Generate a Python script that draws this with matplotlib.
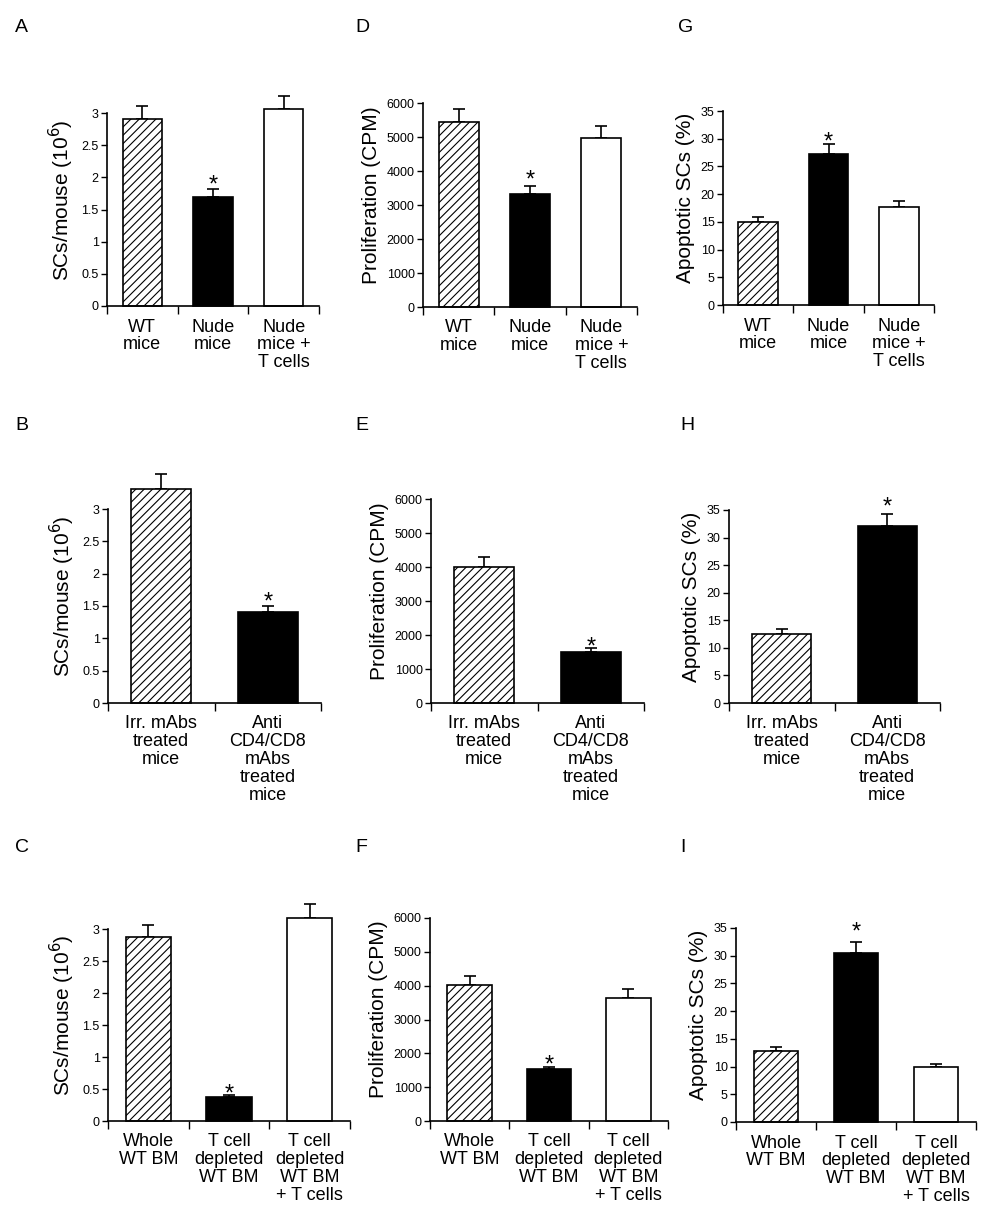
import matplotlib
matplotlib.use("Agg")
import matplotlib.pyplot as plt
from matplotlib.ticker import FixedLocator, NullFormatter

plt.rcParams['font.family'] = ['Liberation Sans', 'DejaVu Sans']
plt.rcParams['hatch.linewidth'] = 0.8

W, H = 999, 1218

# ---------------- data ----------------
cats_nude = ["WT\nmice", "Nude\nmice", "Nude\nmice +\nT cells"]
cats_mabs = ["Irr. mAbs\ntreated\nmice", "Anti\nCD4/CD8\nmAbs\ntreated\nmice"]
cats_bm = ["Whole\nWT BM", "T cell\ndepleted\nWT BM", "T cell\ndepleted\nWT BM\n+ T cells"]

sc_nude = [2.91, 1.70, 3.06]
sc_nude_err = [0.20, 0.12, 0.21]
prolif_nude = [5440, 3330, 4970]
prolif_nude_err = [380, 220, 345]
apop_nude = [15.0, 27.2, 17.7]
apop_nude_err = [0.95, 1.8, 1.1]

sc_mabs = [3.31, 1.41]
sc_mabs_err = [0.23, 0.09]
prolif_mabs = [4000, 1510]
prolif_mabs_err = [285, 98]
apop_mabs = [12.6, 32.1]
apop_mabs_err = [0.9, 2.2]

sc_bm = [2.87, 0.38, 3.17]
sc_bm_err = [0.19, 0.03, 0.22]
prolif_bm = [4020, 1527, 3645]
prolif_bm_err = [275, 80, 267]
apop_bm = [12.8, 30.4, 9.9]
apop_bm_err = [0.8, 2.0, 0.6]

sig_nude = [False, True, False]
sig_mabs = [False, True]
sig_bm = [False, True, False]

yl_sc = "SCs/mouse (10$^{6}$)"
yl_pr = "Proliferation (CPM)"
yl_ap = "Apoptotic SCs (%)"

sc_ticks = [0, 0.5, 1, 1.5, 2, 2.5, 3]
sc_ticklabels = ["0", "0.5", "1", "1.5", "2", "2.5", "3"]
pr_ticks = [0, 1000, 2000, 3000, 4000, 5000, 6000]
pr_ticklabels = ["0", "1000", "2000", "3000", "4000", "5000", "6000"]
ap_ticks = [0, 5, 10, 15, 20, 25, 30, 35]
ap_ticklabels = ["0", "5", "10", "15", "20", "25", "30", "35"]

# panel: letter, label pos(px), axis x-left, x-right, y(0), y(top tick), data..., star gap (px)
panels = [
    ("A", (15, 27), 107, 319, 306, 113, cats_nude, sc_nude, sc_nude_err, sig_nude, sc_ticks, sc_ticklabels, yl_sc, 11),
    ("D", (355, 27), 423, 637, 307, 103, cats_nude, prolif_nude, prolif_nude_err, sig_nude, pr_ticks, pr_ticklabels, yl_pr, 14),
    ("G", (678, 27), 723, 934, 305, 111, cats_nude, apop_nude, apop_nude_err, sig_nude, ap_ticks, ap_ticklabels, yl_ap, 10),
    ("B", (15, 425), 108, 321, 703, 509, cats_mabs, sc_mabs, sc_mabs_err, sig_mabs, sc_ticks, sc_ticklabels, yl_sc, 11),
    ("E", (355, 425), 431, 644, 703, 499, cats_mabs, prolif_mabs, prolif_mabs_err, sig_mabs, pr_ticks, pr_ticklabels, yl_pr, 9),
    ("H", (680, 425), 729, 940, 703, 510, cats_mabs, apop_mabs, apop_mabs_err, sig_mabs, ap_ticks, ap_ticklabels, yl_ap, 14),
    ("C", (15, 847), 108, 350, 1121, 929, cats_bm, sc_bm, sc_bm_err, sig_bm, sc_ticks, sc_ticklabels, yl_sc, 8),
    ("F", (355, 847), 430, 668, 1121, 918, cats_bm, prolif_bm, prolif_bm_err, sig_bm, pr_ticks, pr_ticklabels, yl_pr, 9),
    ("I", (680, 847), 736, 976, 1122, 928, cats_bm, apop_bm, apop_bm_err, sig_bm, ap_ticks, ap_ticklabels, yl_ap, 18),
]

fills = [dict(facecolor="white", hatch="////"),
         dict(facecolor="black"),
         dict(facecolor="white")]

STAR_FS = 17
fig = plt.figure(figsize=(W / 100, H / 100), dpi=100)

for (letter, lpos, xl, xr, y0, yt, cats, vals, errs, sig, ticks, tlabels, ylab, gap) in panels:
    ytp = yt - 50
    ymax = ticks[-1] * (y0 - ytp) / (y0 - yt)
    ax = fig.add_axes([xl / W, 1 - y0 / H, (xr - xl) / W, (y0 - ytp) / H])
    n = len(cats)
    xs = list(range(n))
    for i in xs:
        ax.bar(i, vals[i], width=0.56, edgecolor="black", linewidth=1.2,
               zorder=2, clip_on=False, **fills[i])
    ax.errorbar(xs, vals, yerr=[[0] * n, errs], fmt="none", ecolor="black",
                elinewidth=1.2, capsize=4.5, capthick=1.2, zorder=1, clip_on=False)
    em_px = STAR_FS * 100 / 72
    for i in xs:
        if sig[i]:
            off_px = gap - 0.59 * em_px
            ax.annotate("*", xy=(i, vals[i] + errs[i]), xytext=(0, off_px * 0.72),
                        textcoords="offset points", ha="center", va="baseline",
                        fontsize=STAR_FS, clip_on=False)
    ax.set_xlim(-0.5, n - 0.5)
    ax.set_ylim(0, ymax)
    for s in ("top", "right"):
        ax.spines[s].set_visible(False)
    ax.spines["left"].set_bounds(0, ticks[-1])
    ax.spines["left"].set_linewidth(1.2)
    ax.spines["bottom"].set_linewidth(1.2)
    ax.set_yticks(ticks)
    ax.set_yticklabels(tlabels, fontsize=9)
    ax.tick_params(axis="y", direction="out", length=4, width=1, pad=2)
    ax.set_xticks(xs)
    ax.set_xticklabels(cats, fontsize=13, linespacing=1.07)
    ax.tick_params(axis="x", which="major", length=0, pad=9)
    ax.xaxis.set_minor_locator(FixedLocator([k - 0.5 for k in range(n + 1)]))
    ax.xaxis.set_minor_formatter(NullFormatter())
    ax.tick_params(axis="x", which="minor", direction="out", length=6, width=1)
    ax.set_ylabel(ylab, fontsize=15, labelpad=4)
    ax.yaxis.label.set_y(0.55 * ticks[-1] / ymax)
    ax.patch.set_visible(False)
    fig.text(lpos[0] / W, 1 - lpos[1] / H, letter, fontsize=14,
             ha="left", va="center")

fig.savefig("out.png", dpi=100)
